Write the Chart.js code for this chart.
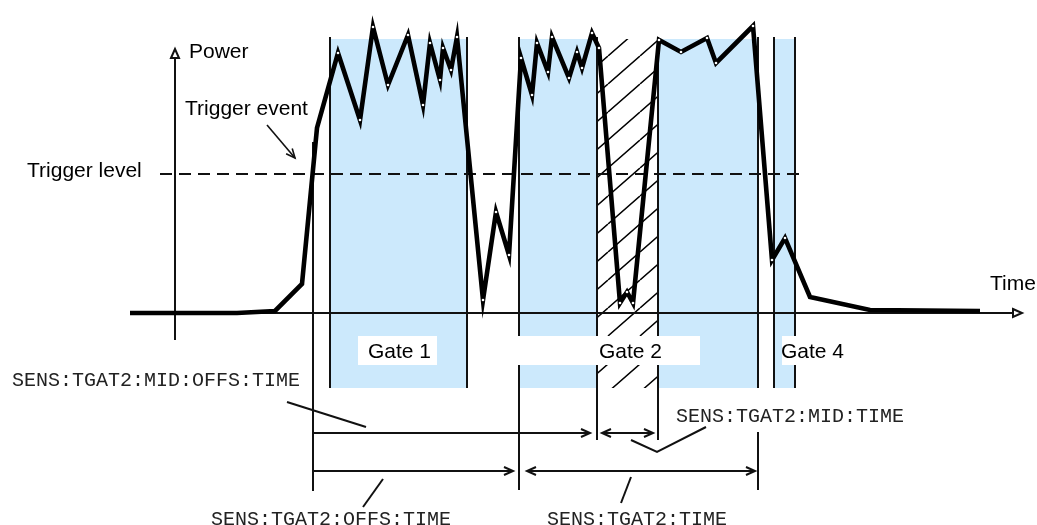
<!DOCTYPE html>
<html>
<head>
<meta charset="utf-8">
<script src="https://cdn.jsdelivr.net/npm/chart.js@4.4.1/dist/chart.umd.min.js"></script>
<style>
  html, body { margin: 0; padding: 0; background: #fff; }
  #wrap { position: relative; width: 1037px; height: 525px; }
</style>
</head>
<body>
<div id="wrap"><canvas id="gate-chart"></canvas></div>
<script>
// Power trace, time axis starts at the power axis, power 0 on the time axis
var traceTime = [-45, 62, 100, 127, 142, 163, 185, 198, 213, 233, 248, 255, 265, 268, 276, 282,
  308, 321, 334, 346, 357, 362, 373, 377, 394, 402, 407, 417, 424, 445, 452, 458,
  484, 506, 532, 541, 578, 597, 610, 635, 695, 805];
var tracePower = [0, 0, 2, 29, 185, 260, 193, 286, 228, 278, 208, 270, 233, 265, 243, 276,
  13, 101, 58, 255, 218, 270, 241, 276, 235, 261, 245, 280, 265, 10, 21, 10,
  273, 261, 275, 250, 287, 53, 75, 16, 3, 2];

// gates (start, end) and the excluded part inside gate 2
var gateStart = [155, 344, 483, 599];
var gateEnd = [292, 422, 583, 620];
var excludedStart = 422;
var excludedEnd = 483;
var gateTop = 274;
var gateBottom = -75;

var triggerLevel = 139;

// gate border lines
var markerTime = [138, 155, 292, 344, 422, 483, 583, 583, 599, 620];
var markerHigh = [171, 276, 276, 276, 276, 276, 276, -119, 276, 276];
var markerLow = [-178, -75, -75, -177, -127, -127, -75, -177, -75, -75];

// dimension arrows
var dimFrom = [138, 427, 138, 352];
var dimTo = [415, 478, 338, 580];
var dimLevel = [-120, -120, -158, -158];
var dimBoth = [false, true, false, true];

// leader lines for the command labels
var leaders = [
  [[112, -89], [191, -114]],
  [[188, -194], [208, -166]],
  [[446, -190], [456, -164]],
  [[456, -127], [482, -139], [531, -114]]
];

var labelText = ['Power', 'Trigger event', 'Trigger level', 'Time', 'Gate 1', 'Gate 2', 'Gate 4',
  'SENS:TGAT2:MID:OFFS:TIME', 'SENS:TGAT2:MID:TIME', 'SENS:TGAT2:OFFS:TIME', 'SENS:TGAT2:TIME'];
var labelTime = [14, 10, -148, 815, 193, 424, 606, -163, 501, 36, 372];
var labelPower = [255, 198, 136, 23, -45, -45, -45, -73, -109, -212, -212];
var labelMono = [false, false, false, false, false, false, false, true, true, true, true];

var boxFrom = [183, 343, 607];
var boxTo = [262, 525, 675];
var boxHigh = -23;
var boxLow = -52;

var SANS = '21px "Liberation Sans", Arial, sans-serif';
var MONO = '20px "Courier New", "Liberation Mono", monospace';
var BLUE = '#cce9fc';

function pts(xs, ys) {
  return xs.map(function (x, i) { return { x: x, y: ys[i] }; });
}

function hatchPattern() {
  var c = document.createElement('canvas');
  c.width = 32;
  c.height = 28;
  var g = c.getContext('2d');
  g.fillStyle = '#fff';
  g.fillRect(0, 0, 32, 28);
  g.strokeStyle = '#000';
  g.lineWidth = 1.5;
  g.beginPath();
  [-32, 0, 32].forEach(function (dx) {
    g.moveTo(dx, 28);
    g.lineTo(dx + 32, 0);
  });
  g.stroke();
  return g.createPattern(c, 'repeat');
}

function drawHead(ctx, x, y, angle, closed) {
  ctx.save();
  ctx.translate(x, y);
  ctx.rotate(angle);
  ctx.beginPath();
  ctx.moveTo(-9, -4);
  ctx.lineTo(0, 0);
  ctx.lineTo(-9, 4);
  if (closed) {
    ctx.closePath();
    ctx.fillStyle = '#fff';
    ctx.fill();
  }
  ctx.stroke();
  ctx.restore();
}

var datasets = [];

datasets.push({
  data: pts(traceTime, tracePower),
  borderColor: '#000',
  borderWidth: 4.6,
  borderJoinStyle: 'miter',
  pointRadius: function (c) { return (c.dataIndex >= 5 && c.dataIndex <= 38) ? 1.3 : 0; },
  pointBackgroundColor: '#fff',
  pointBorderWidth: 0,
  order: 0
});

datasets.push({
  data: pts([-15, 628], [triggerLevel, triggerLevel]),
  borderColor: '#111',
  borderWidth: 1.8,
  borderDash: [12, 7],
  pointRadius: 0,
  order: 1
});

// axes
datasets.push({ data: pts([-45, 840], [0, 0]), borderColor: '#111', borderWidth: 2, pointRadius: 0, order: 2 });
datasets.push({ data: pts([0, 0], [-27, 258]), borderColor: '#111', borderWidth: 2, pointRadius: 0, order: 2 });

markerTime.forEach(function (t, i) {
  datasets.push({
    data: pts([t, t], [markerHigh[i], markerLow[i]]),
    borderColor: '#111',
    borderWidth: 2,
    pointRadius: 0,
    order: 2
  });
});

datasets.push({
  data: pts([excludedStart, excludedEnd], [gateTop, gateTop]),
  borderWidth: 0,
  pointRadius: 0,
  backgroundColor: hatchPattern(),
  fill: { value: gateBottom },
  order: 3
});

gateStart.forEach(function (t, i) {
  datasets.push({
    data: pts([t, gateEnd[i]], [gateTop, gateTop]),
    borderWidth: 0,
    pointRadius: 0,
    backgroundColor: BLUE,
    fill: { value: gateBottom },
    order: 4
  });
});

var annotations = {
  id: 'annotations',
  afterDatasetsDraw: function (chart) {
    var ctx = chart.ctx;
    var X = function (t) { return chart.scales.x.getPixelForValue(t); };
    var Y = function (p) { return chart.scales.y.getPixelForValue(p); };

    ctx.save();
    ctx.fillStyle = '#fff';
    boxFrom.forEach(function (t, i) {
      ctx.fillRect(X(t), Y(boxHigh), X(boxTo[i]) - X(t), Y(boxLow) - Y(boxHigh));
    });

    ctx.strokeStyle = '#111';
    ctx.lineWidth = 2;
    ctx.lineCap = 'butt';

    // axis arrow heads
    drawHead(ctx, X(847), Y(0), 0, true);
    drawHead(ctx, X(0), Y(264), -Math.PI / 2, true);

    // trigger event pointer
    ctx.lineWidth = 1.6;
    ctx.beginPath();
    ctx.moveTo(X(92), Y(188));
    ctx.lineTo(X(120), Y(155));
    ctx.stroke();
    drawHead(ctx, X(120), Y(155), Math.atan2(Y(155) - Y(188), X(120) - X(92)), false);

    ctx.lineWidth = 2;
    dimFrom.forEach(function (t, i) {
      var y = Y(dimLevel[i]);
      ctx.beginPath();
      ctx.moveTo(X(t), y);
      ctx.lineTo(X(dimTo[i]), y);
      ctx.stroke();
      drawHead(ctx, X(dimTo[i]), y, 0, false);
      if (dimBoth[i]) {
        drawHead(ctx, X(t), y, Math.PI, false);
      }
    });

    leaders.forEach(function (line) {
      ctx.beginPath();
      line.forEach(function (p, j) {
        if (j === 0) { ctx.moveTo(X(p[0]), Y(p[1])); } else { ctx.lineTo(X(p[0]), Y(p[1])); }
      });
      ctx.stroke();
    });

    ctx.textBaseline = 'alphabetic';
    ctx.textAlign = 'left';
    labelText.forEach(function (s, i) {
      ctx.font = labelMono[i] ? MONO : SANS;
      ctx.fillStyle = labelMono[i] ? '#222' : '#000';
      ctx.fillText(s, X(labelTime[i]), Y(labelPower[i]));
    });
    ctx.restore();
  }
};

new Chart(document.getElementById('gate-chart'), {
  type: 'line',
  data: { datasets: datasets },
  options: {
    responsive: true,
    maintainAspectRatio: false,
    animation: false,
    layout: { padding: 0 },
    plugins: { legend: { display: false }, tooltip: { enabled: false } },
    scales: {
      x: { type: 'linear', min: -175, max: 862, display: false },
      y: { type: 'linear', min: -212, max: 313, display: false }
    }
  },
  plugins: [annotations]
});
</script>
</body>
</html>
